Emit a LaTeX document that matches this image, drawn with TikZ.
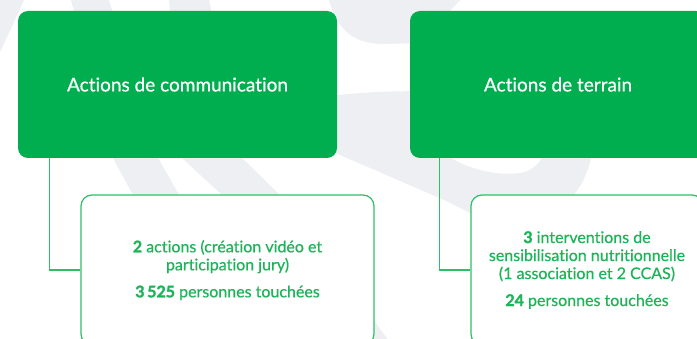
\documentclass[tikz,border=0pt]{standalone}
\usepackage{fontspec}
\setmainfont{Lato}[Ligatures=NoCommon, UprightFeatures={FakeBold=0.5}, BoldFeatures={FakeBold=1.6}]
\definecolor{boxgreen}{HTML}{00AE50}
\definecolor{txtgreen}{HTML}{1DB458}
\definecolor{linegreen}{HTML}{2DBF66}
\definecolor{bggrey}{HTML}{EEEFF3}
\tikzset{
  headbox/.style={fill=boxgreen, draw=none, rounded corners=10pt, text=white, font=\fontsize{19}{22}\selectfont, align=center, inner sep=0pt},
  infobox/.style={fill=white, draw=linegreen, line width=1.2pt, rounded corners=11pt, text=txtgreen, font=\fontsize{16}{18}\selectfont, align=center, inner sep=0pt},
  conn/.style={draw=linegreen, line width=1.2pt},
  bgshape/.style={fill=bggrey, draw=none}
}
\begin{document}
\begin{tikzpicture}[x=1pt, y=-1pt]
\useasboundingbox (0,0) rectangle (697,339);
\clip (0,0) rectangle (697,339);
\fill[white] (0,0) rectangle (697,339);
% background decoration
\fill[bgshape] (0,0) -- (24,0) .. controls (15,20) .. (0,52) -- cycle;
\fill[bgshape] (71,0) -- (109,0) .. controls (135,90) .. (158,158) -- (182,200) -- (230,260) -- (190,260) -- (133,195) -- (113,158) .. controls (95,90) .. (71,0) -- cycle;
\fill[bgshape] (169,0) -- (209,0) -- (242,158) -- (280,195) -- (392,345) -- (360,345) -- (222,195) -- (182,158) -- cycle;
\fill[bgshape] (329,0) -- (460,0) -- (420,43) -- (385,44) .. controls (355,44) and (338,32) .. (329,0) -- cycle;
\fill[bgshape] (320,97) .. controls (360,92) and (420,88) .. (470,95) -- (600,130) -- (591,158) .. controls (585,185) and (570,205) .. (540,225) -- (480,240) -- (470,213) -- (444,200) -- (347,158) -- (320,146) -- cycle;
\fill[white] (440,150) .. controls (460,168) and (500,178) .. (525,172) .. controls (540,166) and (545,155) .. (545,140) -- (440,140) -- cycle;
% header boxes
\node[headbox, minimum width=319pt, minimum height=147pt] (g1) at (177.5,84.5) {Actions de communication};
\node[headbox, minimum width=296pt, minimum height=147pt] (g2) at (558,84.5) {Actions de terrain};
% info boxes
\node[infobox, minimum width=293pt, minimum height=150pt] (w1) at (227.5,270) {\textbf{2} actions (création vidéo et\\participation jury)\\[9pt]\textbf{3\,525} personnes touchées};
\node[infobox, minimum width=232pt, minimum height=150pt] (w2) at (587,270) {\textbf{3} interventions de\\sensibilisation nutritionnelle\\(1 association et 2 CCAS)\\[9pt]\textbf{24} personnes touchées};
% connectors
\draw[conn] ([xshift=32pt]g1.south west) |- (w1.west);
\draw[conn] ([xshift=30pt]g2.south west) |- (w2.west);
\end{tikzpicture}
\end{document}
